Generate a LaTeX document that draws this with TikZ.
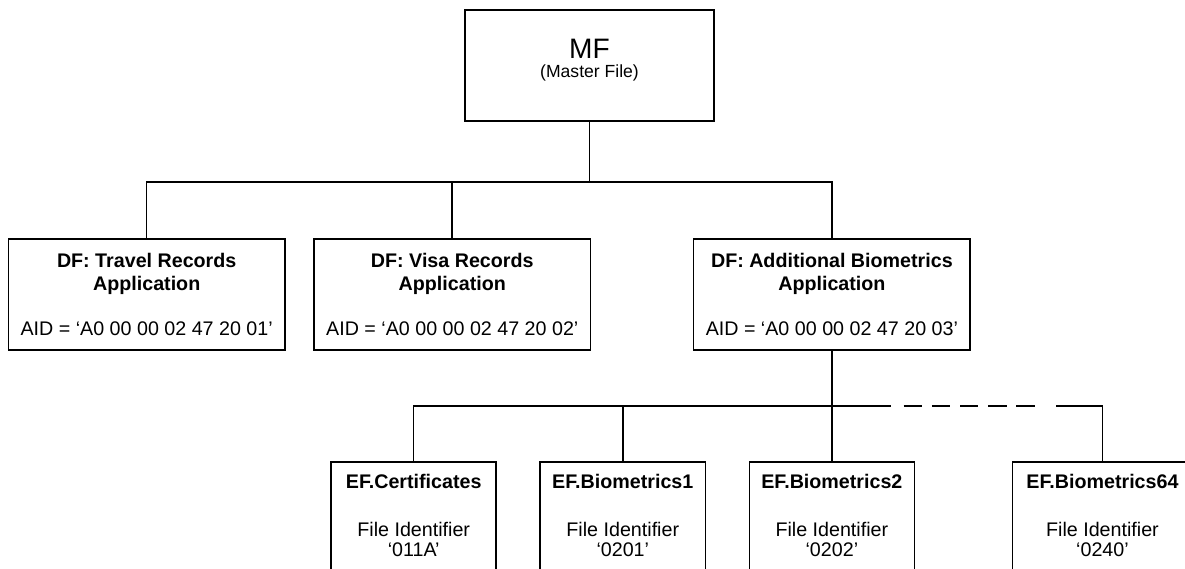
\documentclass[tikz,border=0pt]{standalone}
\usepackage{fontspec}
\setmainfont{Liberation Sans}
\usepackage{tikz}
\usetikzlibrary{positioning}
\tikzset{
  filebox/.style args={#1,#2}{
  draw=black,
  line width=0.9pt,
  align=center,
  minimum width=#1 cm,
  minimum height=#2 cm,
  },
  mfbox/.style={
  filebox={4.98,0},
  inner ysep=0pt,
  text height=1.346cm,
  text depth=0.874cm,
  font=\fontsize{10}{10.8}\selectfont
  },
  dfbox/.style={
  filebox={5.53,2.22},
  font=\fontsize{11.2}{13}\selectfont
  },
  efbox/.style={
  filebox={3.3,0},
  inner ysep=6pt,
  text height=1.675cm,
  text depth=3cm,
  font=\fontsize{11.2}{13}\selectfont
  },
  bus/.style={line width=0.9pt},
  dashbus/.style={bus,dash pattern=on 0.366cm off 0.198cm}
}

\begin{document}
\begin{tikzpicture}
  \useasboundingbox (0,0) rectangle (23.7,-11.38);
  \clip (0,0) rectangle (23.7,-11.38);

  \node[mfbox] (mf) at (11.79,-1.31) {{\fontsize{16}{19}\selectfont MF}\\(Master File)};

  \node[dfbox] (travel) at (2.934,-5.89) {\textbf{DF: Travel Records}\\\textbf{Application}\\[12.8pt]AID = ‘A0 00 00 02 47 20 01’};
  \node[dfbox,right=0.55cm of travel] (visa) {\textbf{DF: Visa Records}\\\textbf{Application}\\[12.8pt]AID = ‘A0 00 00 02 47 20 02’};
  \node[dfbox,right=2.03cm of visa] (addbio) {\textbf{DF: Additional Biometrics}\\\textbf{Application}\\[12.8pt]AID = ‘A0 00 00 02 47 20 03’};

  \coordinate[below=1.21cm of mf.south] (bus1);
  \draw[bus] (mf.south) -- (bus1);
  \draw[bus] (bus1) -| (travel.north);
  \draw[bus] (bus1) -| (visa.north);
  \draw[bus] (bus1) -| (addbio.north);

  \coordinate[below=1.1cm of addbio.south] (bus2);
  \node[efbox,below=1.11cm of bus2] (efbio2) {\textbf{EF.Biometrics2}\\[14.5pt]File Identifier\\[-1.6pt]‘0202’};
  \node[efbox,left=0.85cm of efbio2] (efbio1) {\textbf{EF.Biometrics1}\\[14.5pt]File Identifier\\[-1.6pt]‘0201’};
  \node[efbox,left=0.85cm of efbio1] (efcert) {\textbf{EF.Certificates}\\[14.5pt]File Identifier\\[-1.6pt]‘011A’};
  \node[efbox,minimum width=3.6cm,right=1.93cm of efbio2] (efbio64) {\textbf{EF.Biometrics64}\\[14.5pt]File Identifier\\[-1.6pt]‘0240’};

  \coordinate[right=1.18cm of bus2] (gapL);
  \coordinate[right=1.436cm of bus2] (dashL);
  \coordinate[right=4.058cm of bus2] (dashR);
  \coordinate[right=4.486cm of bus2] (gapR);

  \draw[bus] (addbio.south) -- (bus2) -- (efbio2.north);
  \draw[bus] (bus2) -| (efcert.north);
  \draw[bus] (bus2) -| (efbio1.north);
  \draw[bus] (bus2) -- (gapL);
  \draw[dashbus] (dashL) -- (dashR);
  \draw[bus] (gapR) -| (efbio64.north);

\end{tikzpicture}
\end{document}
